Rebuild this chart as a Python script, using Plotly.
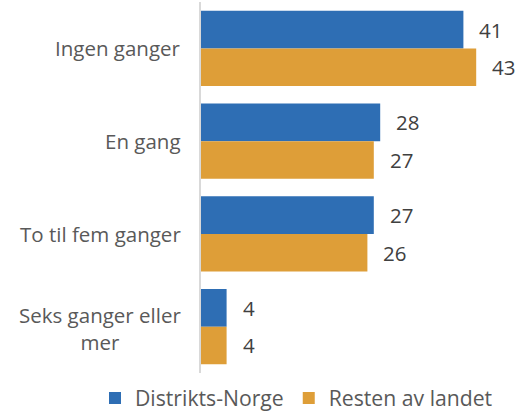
import plotly.graph_objects as go

categories = ["Ingen ganger", "En gang", "To til fem ganger", "Seks ganger eller<br>mer"]
series_names = ["Distrikts-Norge", "Resten av landet"]
distrikt = [41, 28, 27, 4]
resten = [43, 27, 26, 4]
colors = ["#2E6EB4", "#DE9E38"]

FONT = "Open Sans"
L, R, T, B = 201, 10, 2, 41
W, H = 523, 414
PW = W - L - R
PH = H - T - B

fig = go.Figure()
for name, vals, col in zip(series_names, [distrikt, resten], colors):
    fig.add_trace(go.Bar(
        y=categories, x=vals, name=name, orientation="h",
        marker=dict(color=col, line=dict(width=0)),
    ))

# value labels
for j, vals in enumerate([distrikt, resten]):
    shift = 18.8 if j == 0 else -18.8
    for cat, v in zip(categories, vals):
        fig.add_annotation(
            x=v, y=cat, text=str(v), showarrow=False,
            xanchor="left", yanchor="middle", xshift=14, yshift=shift,
            font=dict(family=FONT, size=20.5, color="#404040"),
        )

# category labels, multi-line ones centered like the reference
for cat in categories:
    fig.add_annotation(
        x=0, xref="paper", y=cat, yref="y", text=cat, showarrow=False,
        xanchor="right", yanchor="middle", align="center",
        xshift=-18, yshift=-2 if "<br>" in cat else 0,
        font=dict(family=FONT, size=20.5, color="#595959"),
    )

fig.update_layout(
    width=W, height=H,
    margin=dict(l=L, r=R, t=T, b=B, autoexpand=False),
    paper_bgcolor="white", plot_bgcolor="white",
    barmode="group", bargap=0.19, bargroupgap=0,
    font=dict(family=FONT, size=18, color="#595959"),
    showlegend=True,
    legend=dict(
        orientation="h", xref="paper", yref="paper",
        x=(95 - L) / PW, xanchor="left", y=-0.01 - 1 / PH, yanchor="top",
        font=dict(family=FONT, size=21.2, color="#595959"),
        itemwidth=30, tracegroupgap=0,
    ),
    xaxis=dict(range=[0, 48.75], showgrid=False, zeroline=False, showticklabels=False,
               showline=False, fixedrange=True, automargin=False),
    yaxis=dict(autorange="reversed", showgrid=False, zeroline=False,
               showline=True, linecolor="#D9D9D9", linewidth=2,
               ticks="", showticklabels=False, automargin=False),
)

fig.write_html("out.html", config={"displayModeBar": False},
               post_script="document.body.style.margin='0';document.body.style.padding='0';")
